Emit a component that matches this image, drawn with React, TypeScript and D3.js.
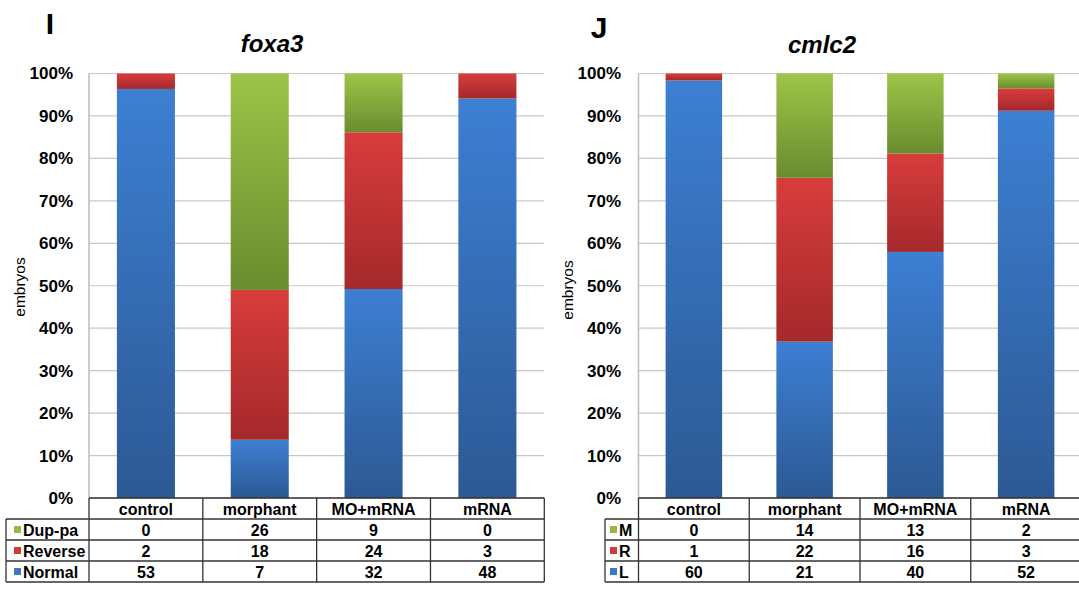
import React from "react";
import * as d3 from "d3";

const categories = ["control", "morphant", "MO+mRNA", "mRNA"];

// foxa3 panel
const foxaSeries = ["Dup-pa", "Reverse", "Normal"];
const foxaDup = [0, 26, 9, 0];
const foxaRev = [2, 18, 24, 3];
const foxaNorm = [53, 7, 32, 48];

// cmlc2 panel
const cmlcSeries = ["M", "R", "L"];
const cmlcM = [0, 14, 13, 2];
const cmlcR = [1, 22, 16, 3];
const cmlcL = [60, 21, 40, 52];

const yTicks = [0, 10, 20, 30, 40, 50, 60, 70, 80, 90, 100];

const colors = ["green", "red", "blue"]; // top row -> bottom row order
const grad: Record<string, [string, string]> = {
  blue: ["#3d7fd3", "#2c5993"],
  red: ["#d83c3c", "#a5292b"],
  green: ["#9cc549", "#6a8c2e"],
};
const swatch: Record<string, string> = { blue: "#3a78c8", red: "#d23a3a", green: "#8fbc45" };

const FONT = "'Liberation Sans', Arial, sans-serif";

type PanelProps = {
  id: string;
  letter: string;
  title: string;
  series: string[];
  rows: number[][];
  plotLeft: number;
  plotRight: number;
  tableLeft: number;
  tickRight: number;
  ylabelX: number;
  ylabelY: number;
  letterX: number;
  letterY: number;
  titleX: number;
  titleY: number;
  labelTextX: number;
};

function Panel(p: PanelProps) {
  const top = 73.5;
  const bottom = 498;
  const y = d3.scaleLinear().domain([0, 100]).range([bottom, top]);
  const x = d3.scaleBand<string>().domain(categories).range([p.plotLeft, p.plotRight]).padding(0);
  const bw = x.bandwidth() * 0.51;
  const rowH = 21;
  const headerBottom = bottom + rowH;

  const stackOrder = [2, 1, 0];
  const segs: { cat: string; y0: number; y1: number; color: string }[] = [];
  categories.forEach((c, i) => {
    const total = p.rows[0][i] + p.rows[1][i] + p.rows[2][i];
    let acc = 0;
    stackOrder.forEach((r) => {
      const v = (p.rows[r][i] / total) * 100;
      if (v > 0) segs.push({ cat: c, y0: acc, y1: acc + v, color: colors[r] });
      acc += v;
    });
  });

  return (
    <g>
      <defs>
        {Object.entries(grad).map(([k, [c0, c1]]) => (
          <linearGradient key={k} id={`${p.id}-${k}`} x1="0" y1="0" x2="0" y2="1">
            <stop offset="0" stopColor={c0} />
            <stop offset="1" stopColor={c1} />
          </linearGradient>
        ))}
      </defs>
      <text x={p.letterX} y={p.letterY} fontFamily={FONT} fontWeight="bold" fontSize={30} textAnchor="middle">
        {p.letter}
      </text>
      <text x={p.titleX} y={p.titleY} fontFamily={FONT} fontWeight="bold" fontStyle="italic" fontSize={24} textAnchor="middle">
        {p.title}
      </text>
      {yTicks.map((t) => (
        <line key={t} x1={p.plotLeft} x2={p.plotRight} y1={y(t)} y2={y(t)} stroke="#c8c8c8" strokeWidth={1.2} />
      ))}
      {yTicks.map((t) => (
        <text key={"l" + t} x={p.tickRight} y={y(t)} dy="0.35em" textAnchor="end" fontFamily={FONT} fontWeight="bold" fontSize={17}>
          {t}%
        </text>
      ))}
      <text
        transform={`translate(${p.ylabelX},${p.ylabelY}) rotate(-90)`}
        textAnchor="middle"
        dy="0.35em"
        fontFamily={FONT}
        fontSize={15.5}
      >
        embryos
      </text>
      {segs.map((s, i) => (
        <rect
          key={i}
          x={(x(s.cat) as number) + (x.bandwidth() - bw) / 2}
          y={y(s.y1)}
          width={bw}
          height={y(s.y0) - y(s.y1)}
          fill={`url(#${p.id}-${s.color})`}
        />
      ))}
      <line x1={p.plotLeft} x2={p.plotLeft} y1={top} y2={bottom} stroke="#bdbdbd" strokeWidth={1.5} />
      <g stroke="#333" strokeWidth={1.3} fill="none">
        <line x1={p.plotLeft} x2={p.plotRight} y1={bottom} y2={bottom} />
        {[1, 2, 3, 4].map((k) => (
          <line key={k} x1={p.tableLeft} x2={p.plotRight} y1={bottom + rowH * k} y2={bottom + rowH * k} />
        ))}
        <line x1={p.tableLeft} x2={p.tableLeft} y1={headerBottom} y2={bottom + rowH * 4} />
        <line x1={p.plotLeft} x2={p.plotLeft} y1={bottom} y2={bottom + rowH * 4} />
        {categories.map((c) => (
          <line key={c} x1={(x(c) as number) + x.bandwidth()} x2={(x(c) as number) + x.bandwidth()} y1={bottom} y2={bottom + rowH * 4} />
        ))}
      </g>
      {categories.map((c) => (
        <text
          key={"h" + c}
          x={(x(c) as number) + x.bandwidth() / 2}
          y={bottom + rowH / 2 + 1}
          dy="0.35em"
          textAnchor="middle"
          fontFamily={FONT}
          fontWeight="bold"
          fontSize={16}
        >
          {c}
        </text>
      ))}
      {p.series.map((s, r) => (
        <g key={s}>
          <rect x={p.labelTextX - 9} y={headerBottom + rowH * r + rowH / 2 - 3.5} width={7} height={7} fill={swatch[colors[r]]} />
          <text
            x={p.labelTextX}
            y={headerBottom + rowH * r + rowH / 2 + 1}
            dy="0.35em"
            fontFamily={FONT}
            fontWeight="bold"
            fontSize={16}
          >
            {s}
          </text>
          {categories.map((c, i) => (
            <text
              key={c}
              x={(x(c) as number) + x.bandwidth() / 2}
              y={headerBottom + rowH * r + rowH / 2 + 1}
              dy="0.35em"
              textAnchor="middle"
              fontFamily={FONT}
              fontWeight="bold"
              fontSize={16}
            >
              {p.rows[r][i]}
            </text>
          ))}
        </g>
      ))}
    </g>
  );
}

export default function App() {
  return (
    <svg
      width={1079}
      height={592}
      style={{ position: "absolute", left: 0, top: 0, background: "#fff" }}
      xmlns="http://www.w3.org/2000/svg"
    >
      <rect width={1079} height={592} fill="#fff" />
      <Panel
        id="a"
        letter="I"
        title="foxa3"
        series={foxaSeries}
        rows={[foxaDup, foxaRev, foxaNorm]}
        plotLeft={89}
        plotRight={544.3}
        tableLeft={6}
        tickRight={73}
        ylabelX={20}
        ylabelY={287}
        letterX={50}
        letterY={34}
        titleX={272}
        titleY={52}
        labelTextX={23}
      />
      <Panel
        id="b"
        letter="J"
        title="cmlc2"
        series={cmlcSeries}
        rows={[cmlcM, cmlcR, cmlcL]}
        plotLeft={638.5}
        plotRight={1081.5}
        tableLeft={605}
        tickRight={621}
        ylabelX={568}
        ylabelY={290}
        letterX={599}
        letterY={38}
        titleX={822}
        titleY={53}
        labelTextX={619}
      />
    </svg>
  );
}
